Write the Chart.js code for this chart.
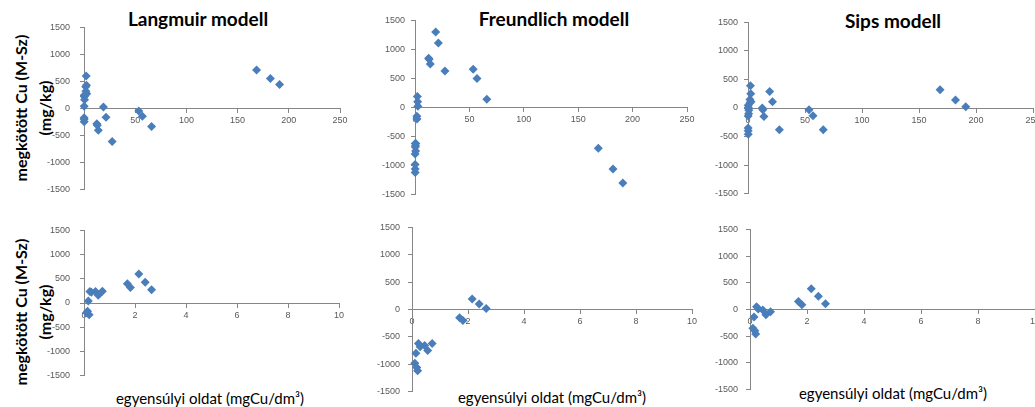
<!DOCTYPE html>
<html>
<head>
<meta charset="utf-8">
<script src="https://cdn.jsdelivr.net/npm/chart.js@4.4.0/dist/chart.umd.min.js"></script>
<style>
html, body { margin: 0; padding: 0; background: #fff; overflow: hidden; }
body { width: 1035px; height: 407px; position: relative; }
canvas { position: absolute; }
.lbl { position: absolute; font-family: Lato, 'Open Sans', sans-serif; white-space: nowrap; color: #000; transform: translate(-50%, -50%); }
.title { font-size: 19px; font-weight: bold; }
.xt { font-size: 15px; }
.yt { font-size: 16px; font-weight: bold; line-height: 24px; text-align: center; transform: translate(-50%, -50%) rotate(-90deg); }
</style>
</head>
<body>
<div class="lbl title" style="left:198px;top:18px">Langmuir modell</div>
<div class="lbl title" style="left:554px;top:18px">Freundlich modell</div>
<div class="lbl title" style="left:893px;top:20px">Sips modell</div>
<div class="lbl yt" style="left:33px;top:108px">megkötött Cu (M-Sz)<br>(mg/kg)</div>
<div class="lbl yt" style="left:33px;top:312px">megkötött Cu (M-Sz)<br>(mg/kg)</div>
<div class="lbl xt" style="left:210px;top:398px">egyensúlyi oldat (mgCu/dm³)</div>
<div class="lbl xt" style="left:552px;top:397px">egyensúlyi oldat (mgCu/dm³)</div>
<div class="lbl xt" style="left:893px;top:393px">egyensúlyi oldat (mgCu/dm³)</div>
<script>
// equilibrium concentration (mgCu/dm3) - low range shown in the lower row
const lowX = [0.1, 0.14, 0.17, 0.2, 0.23, 0.29, 0.45, 0.56, 0.72, 1.7, 1.82, 2.15, 2.4, 2.65];
// the rest only appears in the upper row
const highX = [12.5, 13, 14, 19, 21.5, 27.5, 53.5, 57, 66, 168.5, 182, 191];

// residuals, megkötött Cu (mg/kg)
const langmuirLow = [-200, -170, 40, -245, 240, 220, 240, 160, 245, 400, 320, 600, 430, 275];
const langmuirHigh = [-280, -310, -400, 30, -160, -610, -45, -145, -335, 710, 555, 445];
const freundlichLow = [-980, -800, -1060, -1120, -620, -680, -660, -750, -620, -150, -200, 190, 100, 20];
const freundlichHigh = [850, 830, 750, 1300, 1110, 630, 660, 500, 140, -700, -1060, -1300];
const sipsLow = [-350, -140, -400, -460, 50, 10, -10, -100, -40, 150, 90, 390, 250, 110];
const sipsHigh = [0, -30, -150, 290, 110, -380, -30, -135, -380, 320, 140, 20];

const yMin = -1500, yMax = 1500, yStep = 500;
const xMaxTop = 250, xStepTop = 50;
const xMaxBottom = 10, xStepBottom = 2;

const markerColor = '#4A7EBB';
const axisColor = '#868686';
const tickColor = '#595959';

function points(xs, ys) {
    return xs.map((x, i) => ({ x: x, y: ys[i] }));
}

function makePanel(area, pts, xMax, xStep, yPad) {
    const W = 60, PT = 10, PR = 16, PB = 8;
    const c = document.createElement('canvas');
    c.width = area.right - area.left + W + PR;
    c.height = area.bottom - area.top + PT + PB;
    c.style.left = (area.left - W) + 'px';
    c.style.top = (area.top - PT) + 'px';
    document.body.appendChild(c);

    const tickFont = { family: "'Liberation Sans', Arial, sans-serif", size: 9 };

    return new Chart(c, {
        type: 'scatter',
        data: {
            datasets: [{
                data: pts,
                pointStyle: 'rectRot',
                pointRadius: 4.5,
                pointHoverRadius: 4.5,
                backgroundColor: markerColor,
                borderColor: markerColor,
                borderWidth: 0,
                clip: false
            }]
        },
        options: {
            responsive: false,
            animation: false,
            devicePixelRatio: 1,
            layout: { padding: { left: 0, top: PT, right: PR, bottom: PB } },
            plugins: { legend: { display: false }, tooltip: { enabled: false } },
            scales: {
                x: {
                    type: 'linear',
                    position: { y: 0 },
                    min: 0,
                    max: xMax,
                    ticks: { stepSize: xStep, font: tickFont, color: tickColor, padding: 3, maxRotation: 0, callback: v => String(v) },
                    grid: { drawOnChartArea: false, tickLength: 4, color: axisColor },
                    border: { color: axisColor }
                },
                y: {
                    type: 'linear',
                    position: 'left',
                    min: yMin,
                    max: yMax,
                    afterFit: s => { s.width = W; },
                    ticks: { stepSize: yStep, font: tickFont, color: tickColor, padding: yPad, callback: v => String(v) },
                    grid: { drawOnChartArea: false, tickLength: 4, color: axisColor },
                    border: { color: axisColor }
                }
            }
        }
    });
}

const langmuirAll = points(lowX.concat(highX), langmuirLow.concat(langmuirHigh));
const freundlichAll = points(lowX.concat(highX), freundlichLow.concat(freundlichHigh));
const sipsAll = points(lowX.concat(highX), sipsLow.concat(sipsHigh));

makePanel({ left: 84, top: 22, right: 340, bottom: 197 }, langmuirAll, xMaxTop, xStepTop, 10);
makePanel({ left: 415, top: 19, right: 687, bottom: 198 }, freundlichAll, xMaxTop, xStepTop, 6);
makePanel({ left: 748, top: 21, right: 1033, bottom: 197 }, sipsAll, xMaxTop, xStepTop, 6);
makePanel({ left: 84, top: 225, right: 339, bottom: 383 }, points(lowX, langmuirLow), xMaxBottom, xStepBottom, 10);
makePanel({ left: 412, top: 224, right: 692, bottom: 397 }, points(lowX, freundlichLow), xMaxBottom, xStepBottom, 8);
makePanel({ left: 750, top: 226, right: 1035, bottom: 395 }, points(lowX, sipsLow), xMaxBottom, xStepBottom, 8);
</script>
</body>
</html>
